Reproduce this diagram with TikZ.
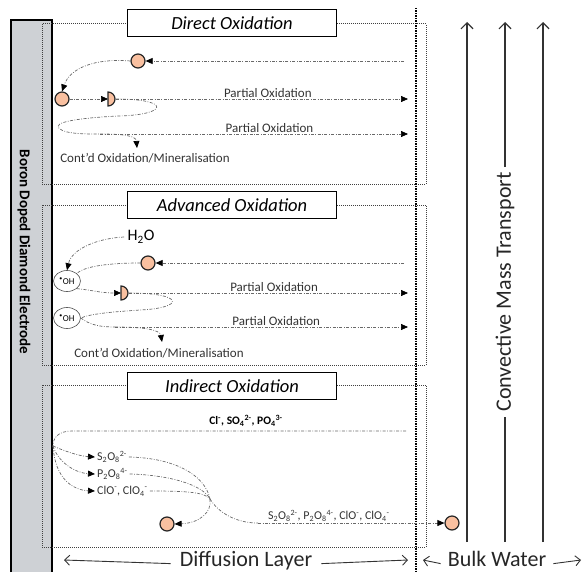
\documentclass[tikz,border=0pt]{standalone}
\usepackage{fontspec}
\setmainfont{Carlito}
\usetikzlibrary{arrows.meta,shapes.geometric}
\definecolor{peach}{RGB}{249,192,160}
\definecolor{electrode}{RGB}{206,209,213}
\definecolor{flowgray}{RGB}{105,105,105}

% half-oxidised molecule, flat side at #1
\newcommand{\halfmol}[1]{\filldraw[draw=black!85, line width=1.2pt, fill=peach] ([yshift=7pt]#1) arc[start angle=90, end angle=-90, radius=7pt] -- cycle;}

\begin{document}
\begin{tikzpicture}[x=1pt, y=-1pt,
  flow/.style={draw=flowgray, line width=0.7pt, dash pattern=on 3pt off 1.5pt on 0.8pt off 1.5pt},
  >={Triangle[length=7pt,width=6pt,color=black]},
  zone/.style={draw=black!75, line width=1pt, densely dotted},
  title/.style={draw, line width=1.3pt, fill=white, minimum width=209pt, minimum height=27pt, inner sep=0pt, font=\fontsize{18.5}{20}\selectfont\itshape},
  molecule/.style={circle, draw=black!85, line width=1.2pt, fill=peach, minimum size=14pt, inner sep=0pt},
  radical/.style={ellipse, draw=black!70, line width=0.6pt, minimum width=27pt, minimum height=21pt, inner sep=0pt, font=\fontsize{9}{10}\selectfont},
  lbl/.style={font=\fontsize{13}{15}\selectfont, text=black!80, inner sep=1pt},
  ion/.style={font=\fontsize{12}{14}\selectfont, text=black!80, inner sep=2pt},
  mass/.style={draw=black!80, line width=1.2pt, -{Straight Barb[length=6pt,width=12pt]}},
  side/.style={draw=black!80, line width=0.9pt, -{Straight Barb[length=5pt,width=10pt]}},
  big/.style={font=\fontsize{22}{24}\selectfont, text=black!85}]
  \useasboundingbox (0,0) rectangle (585,572);

  % Electrode
  \fill[electrode] (11,20) rectangle (52,572);
  \draw[line width=1.6pt] (11,572) -- (11,20) -- (52,20) -- (52,572);
  \node[rotate=-90, font=\bfseries\fontsize{15}{17}\selectfont] (bdd) at (24,252) {Boron Doped Diamond Electrode};

  % Reaction zones
  \draw[zone] (42,24) rectangle (426,184);
  \draw[zone] (42,205) rectangle (426,365);
  \draw[zone] (42,385) rectangle (426,547);
  \draw[line width=1.5pt, densely dotted] (416,8) -- (416,572);

  \node[title] (direct) at (232,23) {Direct Oxidation};
  \node[title] (advanced) at (232,205) {Advanced Oxidation};
  \node[title] (indirect) at (232,386) {Indirect Oxidation};

  % Direct oxidation
  \node[molecule] (m1) at (138,61) {};
  \node[molecule] (m2) at (62,99) {};
  \coordinate (s1) at (404,61);
  \coordinate (h1) at (108,99);
  \coordinate (h1e) at (116,99);
  \coordinate (t1) at (408,99);
  \coordinate (t2) at (408,134);
  \coordinate (j1) at (100,134);
  \coordinate (c1) at (137,148);
  \draw[flow,->] (s1) -- (m1);
  \draw[flow,->] (m1.west) .. controls (95,58) and (70,68) .. (m2.north);
  \draw[flow,->] (m2) -- (h1);
  \halfmol{h1}
  \draw[flow,->] (h1e) -- (t1) node[lbl, pos=0.52, above] {Partial Oxidation};
  \draw[flow] (h1e) .. controls (172,99) and (168,115) .. (118,116) .. controls (80,118) and (50,122) .. (60,129) .. controls (66,134) and (85,134) .. (j1);
  \draw[flow,->] (j1) -- (t2) node[lbl, pos=0.55, above] {Partial Oxidation};
  \draw[flow,->] (j1) .. controls (125,134) and (136,136) .. (c1);
  \node[lbl] (cont1) at (145,158) {Cont'd Oxidation/Mineralisation};

  % Advanced oxidation
  \node[font=\fontsize{16}{18}\selectfont] (h2o) at (141,237) {H\textsubscript{2}O};
  \node[radical] (oh1) at (67,281) {\textsuperscript{•}OH};
  \node[radical] (oh2) at (67,318) {\textsuperscript{•}OH};
  \node[molecule] (m3) at (148,263) {};
  \coordinate (s3) at (404,263);
  \coordinate (h2) at (121,293);
  \coordinate (h2e) at (129,293);
  \coordinate (t3) at (408,293);
  \coordinate (t4) at (408,327);
  \coordinate (j2) at (115,327);
  \coordinate (c2) at (162,342);
  \draw[flow,->] (s3) -- (m3);
  \draw[flow,->] (h2o.west) .. controls (100,238) and (72,248) .. (oh1.north);
  \draw[flow] (m3.west) .. controls (110,263) and (85,266) .. (oh1.north east);
  \draw[flow,->] (oh1.south east) .. controls (92,290) and (100,293) .. (h2);
  \halfmol{h2}
  \draw[flow,->] (h2e) -- (t3) node[lbl, pos=0.52, above] {Partial Oxidation};
  \draw[flow] (h2e) .. controls (185,293) and (185,308) .. (140,310) .. controls (110,312) and (90,314) .. (oh2.east);
  \draw[flow] (oh2.east) .. controls (90,325) and (100,327) .. (j2);
  \draw[flow,->] (j2) -- (t4) node[lbl, pos=0.55, above] {Partial Oxidation};
  \draw[flow,->] (j2) .. controls (145,327) and (160,330) .. (c2);
  \node[lbl] (cont2) at (159,353) {Cont'd Oxidation/Mineralisation};

  % Indirect oxidation
  \node[font=\bfseries\fontsize{11.5}{13}\selectfont] (anions) at (246,421) {Cl\textsuperscript{-}, SO\textsubscript{4}\textsuperscript{2-}, PO\textsubscript{4}\textsuperscript{3-}};
  \coordinate (s5) at (406,431);
  \coordinate (j3) at (53,446);
  \draw[flow] (s5) -- (72,431) .. controls (58,431) and (53,438) .. (j3);
  \node[ion, anchor=west] (sx) at (95,457) {S\textsubscript{2}O\textsubscript{8}\textsuperscript{2-}};
  \node[ion, anchor=west] (px) at (95,474) {P\textsubscript{2}O\textsubscript{8}\textsuperscript{4-}};
  \node[ion, anchor=west] (cx) at (95,491) {ClO\textsuperscript{-}, ClO\textsubscript{4}\textsuperscript{-}};
  \draw[flow,->] (j3) .. controls (62,450) and (78,456) .. (sx.west);
  \draw[flow,->] (j3) .. controls (58,462) and (75,473) .. (px.west);
  \draw[flow,->] (j3) .. controls (55,478) and (72,490) .. (cx.west);
  \coordinate (j4) at (210,499);
  \draw[flow] (sx.east) .. controls (175,458) and (205,475) .. (j4);
  \draw[flow] (px.east) .. controls (170,475) and (203,485) .. (j4);
  \draw[flow] (cx.east) .. controls (185,491) and (205,492) .. (j4);
  \node[molecule] (m5) at (167,524) {};
  \node[molecule] (m6) at (452,523) {};
  \coordinate (j5) at (258,523);
  \draw[flow,->] (j4) .. controls (212,512) and (200,523) .. (m5.east);
  \draw[flow] (j4) .. controls (218,512) and (235,523) .. (j5);
  \draw[flow,->] (j5) -- (m6.west) node[ion, pos=0.38, above=-1pt] {S\textsubscript{2}O\textsubscript{8}\textsuperscript{2-}, P\textsubscript{2}O\textsubscript{8}\textsuperscript{4-}, ClO\textsuperscript{-}, ClO\textsubscript{4}\textsuperscript{-}};

  % Convective mass transport
  \foreach \x in {467,543}
    \draw[mass] (\x,542) -- (\x,22);
  \node[big, rotate=90, inner sep=5pt] (conv) at (505,292) {Convective Mass Transport};
  \coordinate (cb) at (505,542);
  \coordinate (ct) at (505,22);
  \draw[draw=black!80, line width=1.2pt] (cb) -- (conv.west);
  \draw[mass] (conv.east) -- (ct);

  % Diffusion layer / bulk water
  \node[big, anchor=base, inner sep=9pt] (diff) at (246,566) {Diffusion Layer};
  \node[big, anchor=base, inner sep=7pt] (bulk) at (497,566) {Bulk Water};
  \coordinate (dl) at (64,560);
  \coordinate (dr) at (408,560);
  \coordinate (bl) at (423,560);
  \coordinate (br) at (581,560);
  \draw[side] (diff.mid west) -- (dl);
  \draw[side] (diff.mid east) -- (dr);
  \draw[side] (bulk.mid west) -- (bl);
  \draw[side] (bulk.mid east) -- (br);
\end{tikzpicture}
\end{document}
